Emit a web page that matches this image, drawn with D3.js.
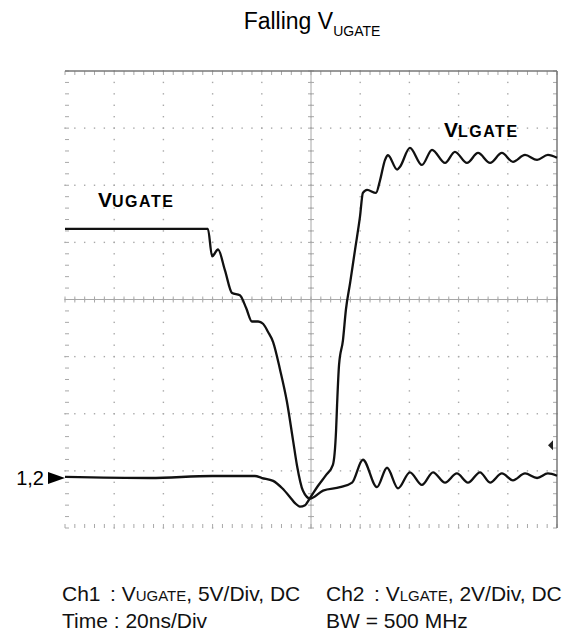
<!DOCTYPE html>
<html lang="en">
<head>
  <meta charset="UTF-8">
  <title>Falling VUGATE</title>
  <script src="https://cdn.jsdelivr.net/npm/d3@7/dist/d3.min.js"></script>
  <style>
    body { margin: 0; background: #fff; }
    svg { font-family: "Liberation Sans", Arial, sans-serif; }
  </style>
</head>
<body>
  <svg id="chart"></svg>
<script>
  const width = 573, height = 635;

  // time in ns (0 = screen centre), 20 ns/div
  // Ch1 V_UGATE in volts, 5 V/div ; Ch2 V_LGATE in volts, 2 V/div
  const ch1Time = [-100, -77.6, -61.4, -41.9, -40.2, -37.8, -35.0, -32.1, -28.9, -26.4, -24.0, -21.5, -19.5, -17.5,
    -15.4, -12.6, -9.8, -7.3, -5.7, -3.3, -0.4, 4.9, 11.8, 16.7, 21.1, 26.8, 30.9, 35.4, 40.2, 45.1, 49.6,
    54.5, 59.3, 63.8, 68.7, 72.8, 77.6, 82.1, 87.0, 91.9, 96.3, 100];
  const ch1Volts = [21.8, 21.8, 21.8, 21.8, 19.4, 20.0, 18.2, 16.2, 16.0, 14.9, 13.7, 13.7, 13.5, 12.8,
    11.9, 9.5, 6.7, 3.3, 1.1, -1.1, -1.8, -1.1, -0.8, -0.4, 1.6, -0.8, 0.9, -0.9, 0.5, -0.6, 0.5,
    -0.4, 0.4, -0.4, 0.5, -0.4, 0.4, -0.2, 0.4, 0, 0.4, 0.2];

  const ch2Time = [-100, -65.4, -40.2, -22.8, -19.9, -15.4, -11.8, -8.5, -6.5, -4.5, -2.4, -0.4, 2.8, 6.1,
    8.9, 10.2, 10.6, 11.4, 13.0, 14.2, 15.9, 17.9, 19.9, 21.1, 22.8, 26.4, 28.0, 30.1, 31.3, 35.0, 36.2,
    40.2, 45.1, 49.2, 54.5, 58.5, 63.4, 67.9, 72.8, 77.6, 82.1, 87.0, 91.9, 96.3, 100];
  const ch2Volts = [0.04, 0, 0.07, 0.07, 0, -0.1, -0.35, -0.67, -0.88, -1.0, -0.95, -0.7, -0.28, 0.1,
    0.46, 1.68, 2.56, 3.96, 4.83, 5.9, 6.83, 7.99, 9.14, 9.98, 10.09, 9.98, 10.4, 11.14, 11.3, 10.8, 10.9,
    11.56, 10.96, 11.49, 11.03, 11.42, 11.03, 11.38, 11.03, 11.38, 11.07, 11.31, 11.14, 11.31, 11.21];

  const nsPerDiv = 20, ch1VoltsPerDiv = 5, ch2VoltsPerDiv = 2;
  const groundDiv = -3.125; // both channels share ground marker "1,2"
  const triggerDiv = -2.55;

  const plot = { left: 65, right: 557, top: 71, bottom: 528 };

  const svg = d3.select('#chart').attr('width', width).attr('height', height);

  const x = d3.scaleLinear().domain([-5 * nsPerDiv, 5 * nsPerDiv]).range([plot.left, plot.right]);
  const y = d3.scaleLinear().domain([-4, 4]).range([plot.bottom, plot.top]);

  const grid = svg.append('g').attr('stroke', '#a8a8a8').attr('fill', '#a8a8a8');

  const majorX = d3.range(-5, 6).map(d => d * nsPerDiv);
  const minorX = d3.range(-25, 26).map(d => d * nsPerDiv / 5);
  const majorY = d3.range(-4, 5);
  const minorY = d3.range(-20, 21).map(d => d / 5);

  // dotted graticule
  majorX.slice(1, -1).forEach(t => {
    minorY.forEach(v => {
      grid.append('rect').attr('x', x(t) - 0.7).attr('y', y(v) - 0.7)
        .attr('width', 1.4).attr('height', 1.4).attr('stroke', 'none');
    });
  });
  majorY.slice(1, -1).forEach(v => {
    minorX.forEach(t => {
      grid.append('rect').attr('x', x(t) - 0.7).attr('y', y(v) - 0.7)
        .attr('width', 1.4).attr('height', 1.4).attr('stroke', 'none');
    });
  });

  // centre cross with ticks
  grid.append('line').attr('x1', x(0)).attr('x2', x(0)).attr('y1', y(4)).attr('y2', y(-4)).attr('stroke-width', 1);
  grid.append('line').attr('x1', x(-100)).attr('x2', x(100)).attr('y1', y(0)).attr('y2', y(0)).attr('stroke-width', 1);
  minorX.forEach(t => {
    grid.append('line').attr('x1', x(t)).attr('x2', x(t)).attr('y1', y(0) - 3).attr('y2', y(0) + 3);
    grid.append('line').attr('x1', x(t)).attr('x2', x(t)).attr('y1', y(4)).attr('y2', y(4) + 4);
    grid.append('line').attr('x1', x(t)).attr('x2', x(t)).attr('y1', y(-4)).attr('y2', y(-4) - 4);
  });
  minorY.forEach(v => {
    grid.append('line').attr('x1', x(0) - 3).attr('x2', x(0) + 3).attr('y1', y(v)).attr('y2', y(v));
    grid.append('line').attr('x1', x(-100)).attr('x2', x(-100) + 4).attr('y1', y(v)).attr('y2', y(v));
    grid.append('line').attr('x1', x(100)).attr('x2', x(100) - 4).attr('y1', y(v)).attr('y2', y(v));
  });

  // frame: top and right edges solid
  grid.append('line').attr('x1', plot.left).attr('x2', plot.right).attr('y1', plot.top).attr('y2', plot.top)
    .attr('stroke', '#777').attr('stroke-width', 1.5);
  grid.append('line').attr('x1', plot.right).attr('x2', plot.right).attr('y1', plot.top).attr('y2', plot.bottom)
    .attr('stroke', '#777').attr('stroke-width', 1.5);

  // traces
  const ch1 = ch1Time.map((t, i) => [t, ch1Volts[i] / ch1VoltsPerDiv + groundDiv]);
  const ch2 = ch2Time.map((t, i) => [t, ch2Volts[i] / ch2VoltsPerDiv + groundDiv]);

  const line = d3.line().x(d => x(d[0])).y(d => y(d[1])).curve(d3.curveMonotoneX);

  [ch1, ch2].forEach(data => {
    svg.append('path').datum(data).attr('d', line)
      .attr('fill', 'none').attr('stroke', '#111').attr('stroke-width', 2.3)
      .attr('stroke-linejoin', 'round');
  });

  // ground marker
  const gy = y(groundDiv);
  svg.append('path').attr('d', `M${plot.left - 17},${gy - 6}L${plot.left},${gy}L${plot.left - 17},${gy + 6}Z`).attr('fill', '#000');
  svg.append('text').attr('x', plot.left - 21).attr('y', gy + 7).attr('text-anchor', 'end')
    .attr('font-size', 20).text('1,2');

  // trigger level marker
  const ty = y(triggerDiv);
  svg.append('path').attr('d', `M${plot.right - 9},${ty}L${plot.right - 4},${ty - 5}L${plot.right - 4},${ty + 5}Z`).attr('fill', '#222');

  // trace labels
  function label(xp, yp, main, small) {
    const t = svg.append('text').attr('x', xp).attr('y', yp).attr('font-weight', 'bold');
    t.append('tspan').attr('font-size', 21).text(main);
    t.append('tspan').attr('font-size', 16).attr('letter-spacing', 1.5).text(small);
  }
  label(98, 207, 'V', 'UGATE');
  label(444, 137, 'V', 'LGATE');

  // title
  const title = svg.append('text').attr('x', 312).attr('y', 29).attr('text-anchor', 'middle');
  title.append('tspan').attr('font-size', 23).text('Falling V');
  title.append('tspan').attr('font-size', 14).attr('dy', 7).text('UGATE');

  // footer
  function footer(xp, yp, parts) {
    const t = svg.append('text').attr('x', xp).attr('y', yp).attr('fill', '#111');
    parts.forEach(p => t.append('tspan').attr('font-size', p[1]).text(p[0]));
  }
  footer(62, 601, [['Ch1', 21]]);
  footer(110, 601, [[': V', 21], ['UGATE', 15], [', 5V/Div, DC', 21]]);
  footer(326, 601, [['Ch2', 21]]);
  footer(374, 601, [[': V', 21], ['LGATE', 15], [', 2V/Div, DC', 21]]);
  footer(62, 628, [['Time : 20ns/Div', 21]]);
  footer(326, 628, [['BW = 500 MHz', 21]]);
</script>
</body>
</html>
